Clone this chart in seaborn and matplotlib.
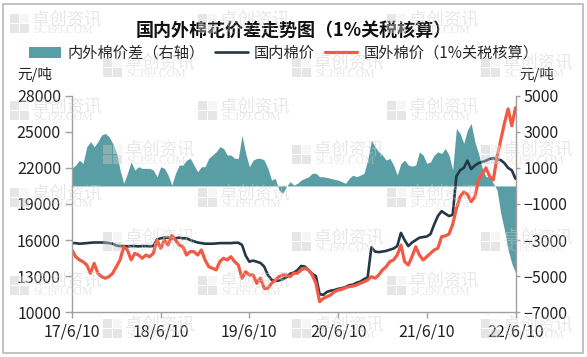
import numpy as np
import pandas as pd
import matplotlib.pyplot as plt
import seaborn as sns
from matplotlib.patches import Patch, Rectangle
from matplotlib.lines import Line2D

# half-monthly readings, 2017-06-10 .. 2022-06-10
dates = pd.date_range('2017-06-10', '2022-06-10', periods=121)

domestic = [15750, 15750, 15700, 15720, 15750, 15780, 15800, 15800, 15800, 15780, 15750, 15700,
            15550, 15500, 15500, 15480, 15500, 15500, 15480, 15500, 15500, 15480, 15500,
            16050, 16150, 16200, 16200, 16150, 16150, 16200, 16150, 16150,
            16000, 15900, 15800, 15750, 15700,
            15700, 15700, 15720, 15750, 15750, 15750, 15750, 15780, 15780,
            15600, 14700, 14200, 14300, 14200, 14100, 13800, 13100, 12700, 12600, 12650,
            12750, 12900, 13200, 13300, 13500, 13850, 13800, 13500, 13200, 13000,
            11500, 11450, 11700, 11800, 11850, 11950, 12000, 12100, 12250, 12300, 12450, 12550, 12750, 12900,
            15400, 15050, 15000, 15050, 15100, 15200, 15300, 15500, 16600, 16000, 15500, 15800, 16000, 16200, 16250, 16300,
            16500, 17300, 18000, 18400, 18200, 18000, 18100, 21300, 21800, 22000, 22600, 21900,
            22200, 22400, 22500, 22600, 22750, 22800, 22700, 22650, 22400, 22000, 21800, 21100]

foreign = [15180, 14620, 14350, 14200, 13930, 13240, 14070, 13240, 12960, 12830, 12960, 13240,
           13790, 14350, 15450, 15180, 14350, 14900, 14760, 14490, 14760, 14620, 14900,
           16010, 15320, 16010, 15590, 16380, 16010, 15590, 15450, 14760,
           15040, 15040, 14760, 15180, 14350,
           13790, 13660, 13520, 14210, 14490, 14350, 14620, 14210, 13930,
           12830, 13370, 13100, 13100, 12410, 12830, 11990, 11990, 12410, 12680, 12960,
           13100, 13100, 12960, 13240, 13240, 13520, 13660, 13520, 13100, 12410,
           10880, 11160, 11300, 11440, 11710, 11850, 11900, 12050, 12130, 12180, 12270, 12410, 12540, 12680,
           12960, 12830, 13100, 13520, 13790, 14210, 14350, 14760, 15590, 14210, 13930, 14620, 15450, 14760, 14350, 14620,
           14900, 15180, 15320, 16280, 16350, 16500, 17300, 18600, 19600, 20000, 19800, 19200,
           19600, 21000, 21500, 22000, 21300, 21000, 22900, 24300, 25700, 26900, 25500, 27000]

spread = [1000, 1150, 1430, 1250, 2170, 2450, 2170, 2450, 2820, 2910, 2730, 2360,
          1890, 880, 145, 700, 1340, 880, 1065, 975, 975, 975, 880,
          510, 1065, 975, 600, 50, 700, 1155, 1155, 1430,
          1530, 1155, 785, 1065, 1065,
          1530, 1710, 1890, 2170, 2080, 1710, 1710, 1530, 1530,
          2800, 1800, 1065, 1430, 1530, 1530, 1430, 975, 325, 420, -225,
          -410, -45, 240, 50, 145, 325, 420, 510, 700, 700,
          510, 510, 470, 420, 365, 325, 235, 145, 420, 600, 510, 600, 700, 1430,
          2540, 2170, 1890, 1710, 1430, 1530, 1155, 600, 1250, 1430, 1155, 1100, 1155, 1890, 1710, 1250,
          1340, 1710, 1890, 1800, 2080, 1710, 880, 3190, 2910, 2360, 3100, 3470,
          2450, 1800, 975, 510, 510, 145, -225, -1510, -2430, -3540, -4300, -4800]

year_ticks = pd.to_datetime(['2017-06-10', '2018-06-10', '2019-06-10',
                             '2020-06-10', '2021-06-10', '2022-06-10'])
year_labels = ['17/6/10', '18/6/10', '19/6/10', '20/6/10', '21/6/10', '22/6/10']
left_ticks = [10000, 13000, 16000, 19000, 22000, 25000, 28000]
right_ticks = [-7000, -5000, -3000, -1000, 1000, 3000, 5000]

TEAL = '#5a9ea5'
NAVY = '#243746'
RED = '#f25a45'
GRAY = '#a0a0a0'

sns.set_style('white')
plt.rcParams['font.family'] = ['Noto Sans CJK SC', 'DejaVu Sans']

W, H = 587, 357
fig = plt.figure(figsize=(W / 100, H / 100), dpi=100)
ax = fig.add_axes([72 / W, 1 - 312.3 / H, 443.5 / W, 216.6 / H])
ax2 = ax.twinx()

# spread area on the right axis
ax2.fill_between(dates, spread, 0, color=TEAL, lw=0)

df = pd.DataFrame({'date': dates, 'domestic': domestic, 'foreign': foreign})
sns.lineplot(data=df, x='date', y='domestic', ax=ax, color=NAVY, lw=1.9)
sns.lineplot(data=df, x='date', y='foreign', ax=ax, color=RED, lw=2.3)

ax.set_zorder(ax2.get_zorder() + 1)
ax.patch.set_visible(False)

ax.set_xlim(year_ticks[0], year_ticks[-1])
ax.set_ylim(10000, 28000)
ax2.set_ylim(-7000, 5000)
ax.set_xticks(year_ticks)
ax.set_xticklabels(year_labels)
ax.set_yticks(left_ticks)
ax2.set_yticks(right_ticks)
ax.set_xlabel('')
ax.set_ylabel('')

for a in (ax, ax2):
    a.spines['top'].set_visible(False)
    for side in ('left', 'right', 'bottom'):
        a.spines[side].set_color(GRAY)
        a.spines[side].set_linewidth(1)
ax.spines['right'].set_visible(False)
ax2.spines['left'].set_visible(False)
ax2.spines['bottom'].set_visible(False)

ax.tick_params(axis='y', left=True, direction='out', length=5, width=1, color=GRAY,
               labelsize=11.5, labelcolor='#222222', pad=3)
ax.tick_params(axis='x', bottom=True, direction='out', length=4, width=1, color=GRAY,
               labelsize=11.5, labelcolor='#222222', pad=4)
ax2.tick_params(axis='y', right=True, direction='out', length=3, width=1, color=GRAY,
                labelsize=11.5, labelcolor='#222222', pad=3)

# titles, units, legend
fig.text(0.5, 1 - 30 / H, '国内外棉花价差走势图（1%关税核算）', ha='center', va='center',
         fontsize=13, fontweight='bold', color='#111111')
fig.text(17 / W, 1 - 75 / H, '元/吨', ha='left', va='center', fontsize=10.5, color='#222222')
fig.text(519 / W, 1 - 75 / H, '元/吨', ha='left', va='center', fontsize=10.5, color='#222222')

handles = [Patch(facecolor=TEAL, edgecolor='none'),
           Line2D([], [], color=NAVY, lw=1.9),
           Line2D([], [], color=RED, lw=2.3)]
labels = ['内外棉价差（右轴）', '国内棉价', '国外棉价（1%关税核算）']
fig.legend(handles, labels, loc='center', bbox_to_anchor=(284 / W, 1 - 53 / H), ncol=3,
           frameon=False, fontsize=11, handlelength=2.1, handletextpad=0.4,
           columnspacing=0.7, borderpad=0)

# outer frame
fig.add_artist(Rectangle((3 / W, 4 / H), 580 / W, 349 / H, transform=fig.transFigure,
                         fill=False, edgecolor='#b8b8b8', lw=1.2))


# watermark grid
def watermark(x, y):
    for dx, dy, c in [(0, 0, '#c8c8c8'), (10, 0, '#ececec'), (0, 10, '#c8c8c8'), (10, 10, '#c8c8c8')]:
        fig.add_artist(Rectangle(((x + dx) / W, 1 - (y + dy + 9) / H), 9 / W, 9 / H,
                                 transform=fig.transFigure, color=c, alpha=0.45, lw=0, zorder=20))
    fig.text((x + 22) / W, 1 - (y + 5) / H, '卓创资讯', fontsize=12.5, color='#cccccc', alpha=0.45,
             ha='left', va='center', zorder=20)
    fig.text((x + 23) / W, 1 - (y + 16) / H, 'SCI99.COM', fontsize=8.5, color='#cccccc', alpha=0.45,
             ha='left', va='center', family='Liberation Serif', zorder=20)


for k in range(8):
    yy = 14 + 43.6 * k
    cols = [10, 198, 387] if k % 2 == 0 else [103, 292, 481]
    for xx in cols:
        watermark(xx, yy)

fig.savefig('out.png', dpi=100)
